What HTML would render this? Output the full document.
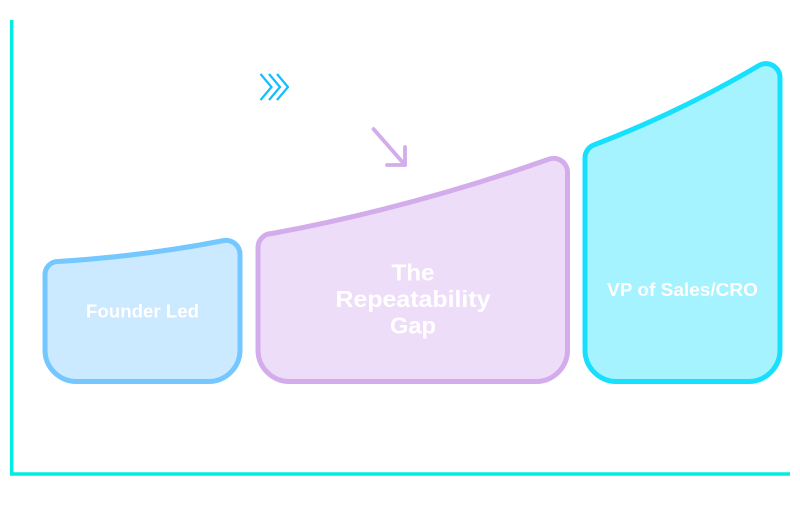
<!DOCTYPE html>
<html>
<head>
<meta charset="utf-8">
<style>
html,body{margin:0;padding:0;background:#fff;width:800px;height:524px;overflow:hidden}
svg{display:block}
text{font-family:"Liberation Sans",sans-serif;font-weight:700;fill:#fff;text-anchor:middle}
</style>
</head>
<body>
<svg width="800" height="524" viewBox="0 0 800 524" xmlns="http://www.w3.org/2000/svg">
<path d="M11.700 20V474H790" fill="none" stroke="#00EDE2" stroke-width="3.400"/>
<path d="M58 261.500Q145 256 224 240.500A14 14 0 0 1 240 254V350A31.500 31.500 0 0 1 208.500 381.500H76.500A31.500 31.500 0 0 1 45 350V275A13 13 0 0 1 58 261.500Z" fill="#CBE9FF" stroke="#74C8FF" stroke-width="5"/>
<text x="142.500" y="317.500" font-size="18" textLength="113" lengthAdjust="spacingAndGlyphs">Founder Led</text>
<path d="M272 233.500Q410 208 548 159.500A14 14 0 0 1 567.500 173V350A31.500 31.500 0 0 1 536 381.500H289.500A31.500 31.500 0 0 1 258 350V247A14 14 0 0 1 272 233.500Z" fill="#EEDDF8" stroke="#D3ACEB" stroke-width="5"/>
<text font-size="23"><tspan x="413" y="280.500" textLength="43" lengthAdjust="spacingAndGlyphs">The</tspan><tspan x="413" y="307" textLength="155" lengthAdjust="spacingAndGlyphs">Repeatability</tspan><tspan x="413" y="333.500" textLength="46" lengthAdjust="spacingAndGlyphs">Gap</tspan></text>
<path d="M595 144.500Q680 112 759 65.500A14 14 0 0 1 780 78V350A31.500 31.500 0 0 1 748.500 381.500H616.500A31.500 31.500 0 0 1 585 350V158A14 14 0 0 1 595 144.500Z" fill="#A4F3FF" stroke="#17E0FF" stroke-width="5"/>
<text x="682.500" y="296" font-size="18" textLength="151" lengthAdjust="spacingAndGlyphs">VP of Sales/CRO</text>
<g fill="none" stroke="#11BEFF" stroke-width="2.200">
<path d="M260.500 74L271.500 87L260.500 100"/>
<path d="M269 74L280 87L269 100"/>
<path d="M277 74L288 87L277 100"/>
</g>
<g fill="none" stroke="#D3ACEB" stroke-width="3.800" stroke-linecap="round" stroke-linejoin="round">
<path d="M373.500 129L405 165"/>
<path d="M405 147V165H387"/>
</g>
</svg>
</body>
</html>
